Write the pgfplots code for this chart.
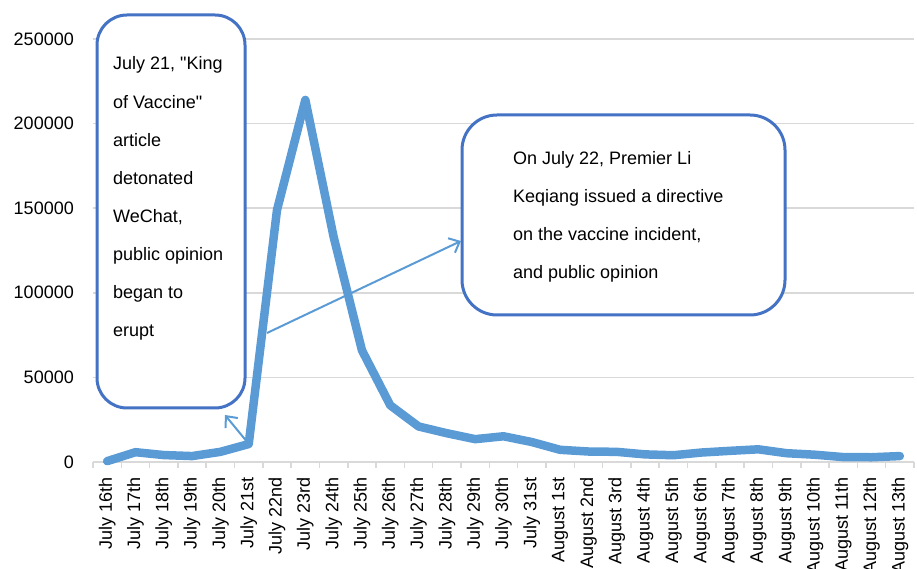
\documentclass[border=0pt]{standalone}
\usepackage{pgfplots}
\pgfplotsset{compat=1.18}
\usepackage{fontspec}
\setmainfont[Ligatures=TeXOff]{Liberation Sans}
\usetikzlibrary{arrows.meta}
\definecolor{linecol}{HTML}{5B9BD5}
\definecolor{boxcol}{HTML}{4472C4}
\definecolor{gridcol}{HTML}{D9D9D9}
\begin{document}
\begin{tikzpicture}[font=\fontsize{18}{21}\selectfont]
\path[use as bounding box] (-93pt,-107pt) rectangle (824pt,462pt);
\begin{axis}[
 at={(0pt,0pt)}, anchor=south west,
 scale only axis, width=821pt, height=423pt,
 xmin=-0.5, xmax=28.5, ymin=0, ymax=250000,
 clip=false,
 axis x line*=bottom, axis y line*=left,
 y axis line style={draw=none},
 x axis line style={draw=gridcol, line width=1.5pt, -},
 ytick={0,50000,100000,150000,200000,250000},
 scaled y ticks=false,
 ymajorgrids, grid style={gridcol, line width=1.5pt},
 major y tick style={draw=none},
 xtick={0,...,28},
 xticklabels={July 16th,July 17th,July 18th,July 19th,July 20th,July 21st,July 22nd,July 23rd,July 24th,July 25th,July 26th,July 27th,July 28th,July 29th,July 30th,July 31st,August 1st,August 2nd,August 3rd,August 4th,August 5th,August 6th,August 7th,August 8th,August 9th,August 10th,August 11th,August 12th,August 13th},
 major x tick style={draw=none},
 minor xtick={-0.5,0.5,...,28.5},
 minor x tick style={draw=gridcol, line width=1.5pt},
 minor tick length=6pt,
 major tick length=0pt,
 tick align=outside,
 xticklabel style={rotate=90, anchor=east, inner sep=0pt},
 xticklabel shift=15pt,
 yticklabel style={inner sep=0pt},
 yticklabel shift=19pt,
 /pgf/number format/.cd, fixed, 1000 sep={}, assume math mode=true,
]
\addplot[linecol, line width=8.5pt, line join=round, line cap=round] coordinates {
(0,500) (1,5800) (2,4100) (3,3500) (4,6000) (5,10600) (6,149000) (7,214000)
(8,133000) (9,66000) (10,33500) (11,21000) (12,17000) (13,13500) (14,15200)
(15,11800) (16,7200) (17,6200) (18,6000) (19,4500) (20,4000) (21,5600)
(22,6600) (23,7500) (24,5200) (25,4300) (26,2900) (27,2800) (28,3500)};
\end{axis}
% callouts
\draw[boxcol, line width=3pt, fill=white, rounded corners=30pt] (4pt,54pt) rectangle (152pt,447pt);
\draw[boxcol, line width=3pt, fill=white, rounded corners=35pt] (369pt,147pt) rectangle (692pt,347pt);
\foreach \t [count=\i from 0] in {{July 21, "King},{of Vaccine"},{article},{detonated},{WeChat,},{public opinion},{began to},{erupt}} {
  \node[anchor=base west, inner sep=0pt] at (20pt,392pt-\i*38.1pt) {\t};
}
\foreach \t [count=\i from 0] in {{On July 22, Premier Li},{Keqiang issued a directive},{on the vaccine incident,},{and public opinion}} {
  \node[anchor=base west, inner sep=0pt] at (420pt,297pt-\i*38pt) {\t};
}
\draw[linecol, line width=2pt, -{Straight Barb[length=9pt,width=16pt]}] (155pt,19pt) -- (132pt,47pt);
\draw[linecol, line width=2pt, -{Straight Barb[length=9pt,width=16pt]}] (174pt,129pt) -- (368pt,221pt);
\end{tikzpicture}
\end{document}
